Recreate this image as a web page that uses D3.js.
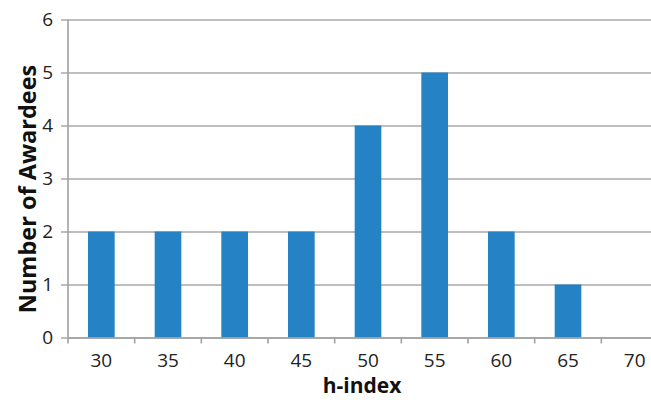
<!DOCTYPE html>
<html><head><meta charset="utf-8">
<script src="https://cdn.jsdelivr.net/npm/d3@7"></script>
<style>body{margin:0;background:#fff}svg{display:block}</style>
</head><body>
<script>
const categories = ["30","35","40","45","50","55","60","65","70"];
const counts = [2,2,2,2,4,5,2,1,0];
const yTicks = [0,1,2,3,4,5,6];

const W = 651, H = 400;
const m = {left: 68, top: 19.5, plotRight: 668, bottom: 337.5};
const svg = d3.select("body").append("svg").attr("width", W).attr("height", H);
const font = "'Open Sans', 'Segoe UI', sans-serif";

const x = d3.scaleBand().domain(categories).range([m.left, m.plotRight]).paddingInner(0.6).paddingOuter(0.3);
const xOuter = d3.scaleBand().domain(categories).range([m.left, m.plotRight]);
const y = d3.scaleLinear().domain([0, 6]).range([m.bottom, m.top]);

// gridlines
const gy = svg.append("g").attr("transform", `translate(${m.left},0)`)
  .call(d3.axisLeft(y).tickValues(yTicks).tickSize(-(m.plotRight - m.left)).tickPadding(15).tickFormat(d3.format("d")));
gy.select(".domain").remove();
gy.selectAll(".tick line").attr("stroke", "#a8a8a8").attr("stroke-width", 1.6).attr("x1", -7);
gy.selectAll(".tick text").attr("font-family", font).attr("font-size", 19).attr("fill", "#222");

// bars
svg.append("g").selectAll("rect").data(categories).join("rect")
  .attr("x", d => x(d)).attr("width", x.bandwidth())
  .attr("y", (d, i) => y(counts[i])).attr("height", (d, i) => y(0) - y(counts[i]))
  .attr("fill", "#2583c5");

// y axis line
svg.append("line").attr("x1", m.left).attr("x2", m.left).attr("y1", m.top).attr("y2", m.bottom)
  .attr("stroke", "#a0a0a0").attr("stroke-width", 1.6);

// x axis
const gx = svg.append("g").attr("transform", `translate(0,${m.bottom})`)
  .call(d3.axisBottom(xOuter).tickSize(0).tickPadding(16));
gx.select(".domain").attr("stroke", "#a0a0a0").attr("stroke-width", 1.6);
gx.selectAll(".tick line").remove();
gx.selectAll(".tick text").attr("font-family", font).attr("font-size", 19).attr("fill", "#222");
// tick marks at band boundaries
const bounds = categories.map(c => xOuter(c)).concat([m.plotRight]);
gx.append("g").selectAll("line").data(bounds).join("line")
  .attr("x1", d => d).attr("x2", d => d).attr("y1", 0).attr("y2", 6)
  .attr("stroke", "#a0a0a0").attr("stroke-width", 1.6);

// axis titles
svg.append("text").attr("x", 362).attr("y", 393).attr("text-anchor", "middle")
  .attr("font-family", font).attr("font-weight", "bold").attr("font-size", 21).attr("fill", "#111").text("h-index");
svg.append("text").attr("transform", `translate(36,189) rotate(-90)`).attr("text-anchor", "middle")
  .attr("font-family", font).attr("font-weight", "bold").attr("font-size", 23.5).attr("fill", "#111").text("Number of Awardees");
</script>
</body></html>
